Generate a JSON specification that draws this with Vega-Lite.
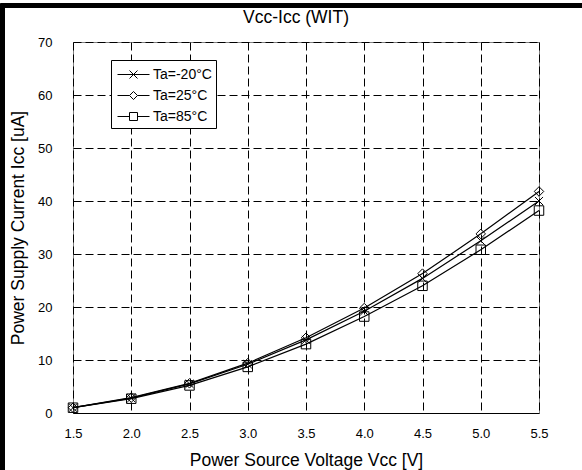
{
  "$schema": "https://vega.github.io/schema/vega-lite/v6.json",
  "width": 466,
  "height": 371,
  "autosize": "none",
  "padding": {"left": 73, "top": 42, "right": 43, "bottom": 57},
  "background": "white",
  "title": {
    "text": "Vcc-Icc (WIT)",
    "font": "Liberation Sans",
    "fontSize": 17.5,
    "fontWeight": "normal",
    "color": "black",
    "anchor": "middle",
    "offset": -22.5,
    "dx": -10
  },
  "data": {
    "values": [
      {"Vcc": 1.5, "Icc": 1.0, "Ta": "Ta=-20°C"},
      {"Vcc": 2.0, "Icc": 2.8, "Ta": "Ta=-20°C"},
      {"Vcc": 2.5, "Icc": 5.5, "Ta": "Ta=-20°C"},
      {"Vcc": 3.0, "Icc": 9.2, "Ta": "Ta=-20°C"},
      {"Vcc": 3.5, "Icc": 13.8, "Ta": "Ta=-20°C"},
      {"Vcc": 4.0, "Icc": 19.2, "Ta": "Ta=-20°C"},
      {"Vcc": 4.5, "Icc": 25.4, "Ta": "Ta=-20°C"},
      {"Vcc": 5.0, "Icc": 32.5, "Ta": "Ta=-20°C"},
      {"Vcc": 5.5, "Icc": 40.0, "Ta": "Ta=-20°C"},
      {"Vcc": 1.5, "Icc": 1.0, "Ta": "Ta=25°C"},
      {"Vcc": 2.0, "Icc": 2.9, "Ta": "Ta=25°C"},
      {"Vcc": 2.5, "Icc": 5.6, "Ta": "Ta=25°C"},
      {"Vcc": 3.0, "Icc": 9.4, "Ta": "Ta=25°C"},
      {"Vcc": 3.5, "Icc": 14.2, "Ta": "Ta=25°C"},
      {"Vcc": 4.0, "Icc": 19.8, "Ta": "Ta=25°C"},
      {"Vcc": 4.5, "Icc": 26.3, "Ta": "Ta=25°C"},
      {"Vcc": 5.0, "Icc": 33.8, "Ta": "Ta=25°C"},
      {"Vcc": 5.5, "Icc": 41.8, "Ta": "Ta=25°C"},
      {"Vcc": 1.5, "Icc": 1.0, "Ta": "Ta=85°C"},
      {"Vcc": 2.0, "Icc": 2.7, "Ta": "Ta=85°C"},
      {"Vcc": 2.5, "Icc": 5.2, "Ta": "Ta=85°C"},
      {"Vcc": 3.0, "Icc": 8.7, "Ta": "Ta=85°C"},
      {"Vcc": 3.5, "Icc": 13.0, "Ta": "Ta=85°C"},
      {"Vcc": 4.0, "Icc": 18.2, "Ta": "Ta=85°C"},
      {"Vcc": 4.5, "Icc": 24.0, "Ta": "Ta=85°C"},
      {"Vcc": 5.0, "Icc": 30.8, "Ta": "Ta=85°C"},
      {"Vcc": 5.5, "Icc": 38.2, "Ta": "Ta=85°C"}
    ]
  },
  "resolve": {"scale": {"shape": "independent"}, "legend": {"shape": "independent"}},
  "layer": [
    {
      "mark": {"type": "rect", "fill": null, "fillOpacity": 0, "stroke": "black", "strokeWidth": 3.5, "clip": false},
      "encoding": {
        "x": {"datum": 0.895, "type": "quantitative", "scale": {"domain": [1.5, 5.5], "nice": false, "zero": false}},
        "x2": {"datum": 7.0},
        "y": {"datum": 76.9, "type": "quantitative", "scale": {"domain": [0, 70], "nice": false}},
        "y2": {"datum": -20}
      }
    },
    {
      "mark": {"type": "line", "color": "black", "strokeWidth": 1.2},
      "encoding": {
        "x": {
          "field": "Vcc",
          "type": "quantitative",
          "scale": {"domain": [1.5, 5.5], "nice": false, "zero": false},
          "axis": {
            "title": "Power Source Voltage Vcc [V]",
            "values": [1.5, 2.0, 2.5, 3.0, 3.5, 4.0, 4.5, 5.0, 5.5],
            "format": ".1f",
            "labelFlush": false,
            "labelPadding": 14,
            "titlePadding": 11,
            "titleFontSize": 17.5,
            "domainColor": "black",
            "domainWidth": 1
          }
        },
        "y": {
          "field": "Icc",
          "type": "quantitative",
          "scale": {"domain": [0, 70], "nice": false},
          "axis": {
            "title": "Power Supply Current Icc [uA]",
            "values": [0, 10, 20, 30, 40, 50, 60, 70],
            "labelFlush": false,
            "labelPadding": 21,
            "titlePadding": 10,
            "titleFontSize": 17.5,
            "domain": false
          }
        },
        "detail": {"field": "Ta"}
      }
    },
    {
      "mark": {"type": "point", "filled": false, "color": "black", "strokeWidth": 1, "size": 90, "opacity": 1},
      "encoding": {
        "x": {"field": "Vcc", "type": "quantitative"},
        "y": {"field": "Icc", "type": "quantitative"},
        "shape": {
          "field": "Ta",
          "type": "nominal",
          "scale": {
            "domain": ["Ta=-20°C", "Ta=25°C", "Ta=85°C"],
            "range": ["M-0.85,-0.85L0.85,0.85M-0.85,0.85L0.85,-0.85", "diamond", "square"]
          },
          "legend": null
        }
      }
    },
    {
      "mark": {"type": "point", "filled": false, "color": "black", "strokeWidth": 1, "size": 0, "opacity": 1},
      "encoding": {
        "x": {"field": "Vcc", "type": "quantitative"},
        "y": {"field": "Icc", "type": "quantitative"},
        "shape": {
          "field": "Ta",
          "type": "nominal",
          "scale": {
            "domain": ["Ta=-20°C", "Ta=25°C", "Ta=85°C"],
            "range": [
              "M-1.6,0H1.6M-0.4,-0.4L0.4,0.4M-0.4,0.4L0.4,-0.4",
              "M-1.6,0H-0.4M0.4,0H1.6M-0.4,0L0,-0.4L0.4,0L0,0.4Z",
              "M-1.6,0H-0.4M0.4,0H1.6M-0.4,-0.4H0.4V0.4H-0.4Z"
            ]
          },
          "legend": {
            "title": null,
            "orient": "none",
            "legendX": 38,
            "legendY": 18,
            "fillColor": "white",
            "strokeColor": "black",
            "padding": 4,
            "rowPadding": 3,
            "symbolSize": 400,
            "symbolOffset": 8,
            "symbolStrokeColor": "black",
            "symbolStrokeWidth": 1,
            "symbolFillColor": "transparent",
            "labelOffset": 9,
            "labelFont": "Liberation Sans",
            "labelFontSize": 14,
            "labelColor": "black"
          }
        }
      }
    }
  ],
  "config": {
    "font": "Liberation Sans",
    "view": {"stroke": "#808080", "strokeWidth": 1},
    "axis": {
      "grid": true,
      "gridColor": "black",
      "gridDash": [8, 4],
      "gridWidth": 1,
      "gridOpacity": 1,
      "ticks": false,
      "labelFont": "Liberation Sans",
      "labelFontSize": 13,
      "labelColor": "black",
      "titleFont": "Liberation Sans",
      "titleFontWeight": "normal",
      "titleColor": "black"
    }
  }
}
